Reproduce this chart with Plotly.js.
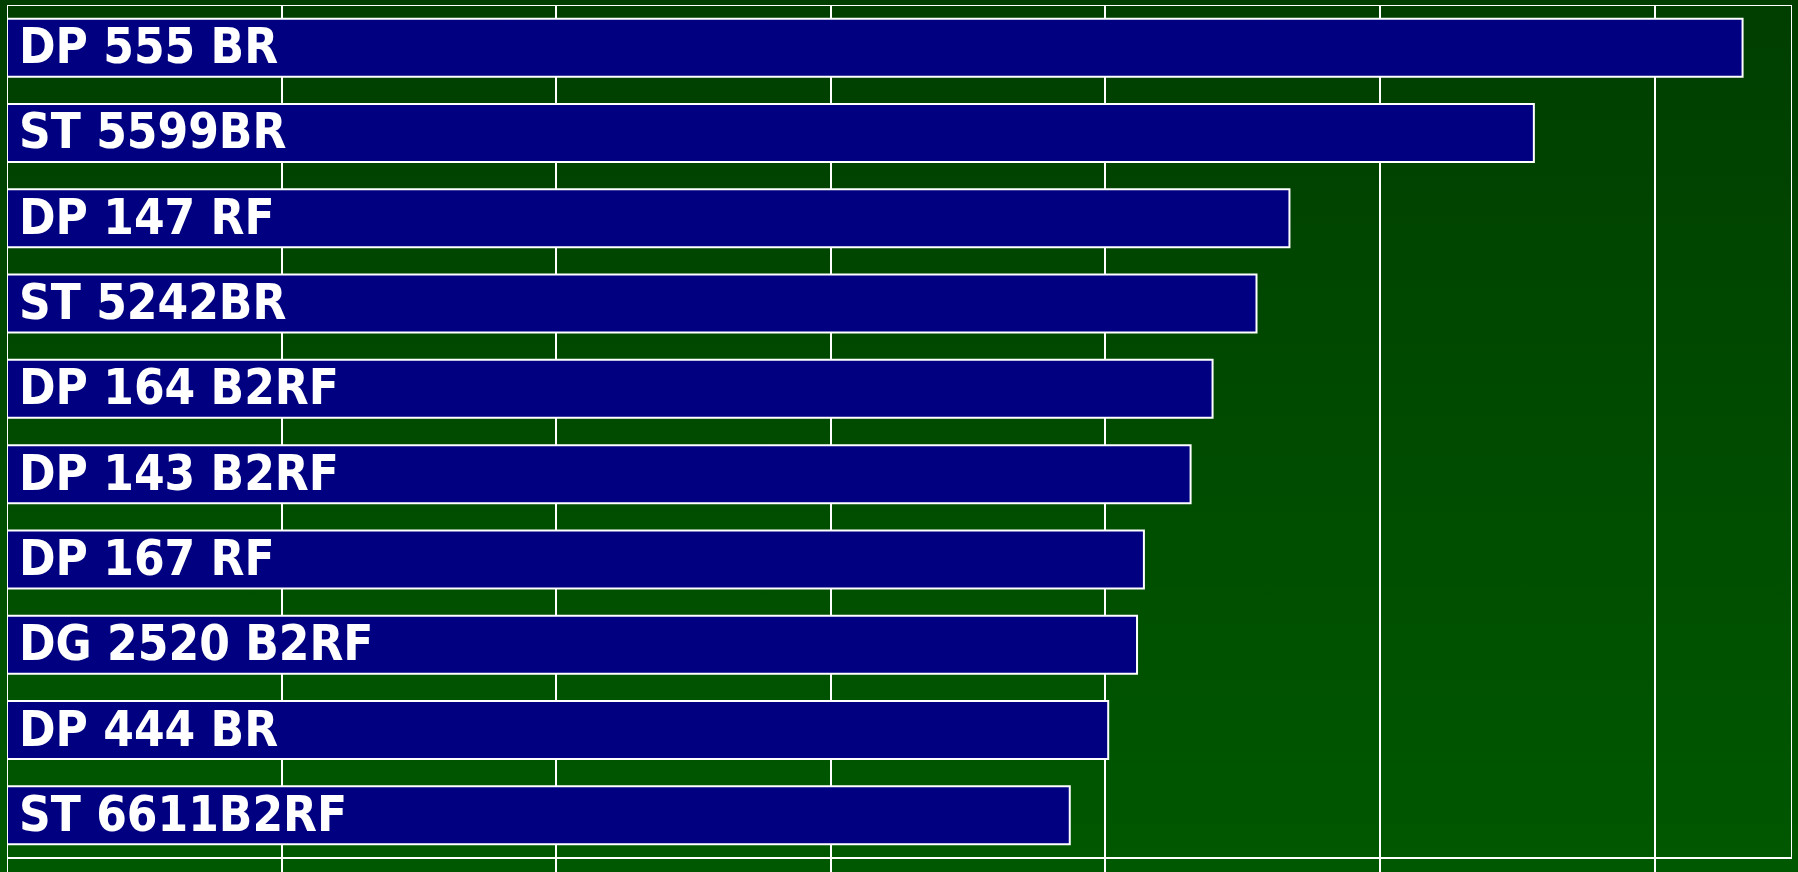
<!DOCTYPE html>
<html>
<head>
<meta charset="utf-8">
<script src="https://cdn.plot.ly/plotly-3.0.1.min.js"></script>
<style>
  html, body { margin: 0; padding: 0; width: 1798px; height: 872px; overflow: hidden;
    background: linear-gradient(to bottom, rgb(0,62,0), rgb(0,88,0)); }
  #chart { width: 1798px; height: 872px; }
</style>
</head>
<body>
<div id="chart"></div>
<script>
// Varieties, top to bottom
const varieties = ["DP 555 BR", "ST 5599BR", "DP 147 RF", "ST 5242BR", "DP 164 B2RF",
                   "DP 143 B2RF", "DP 167 RF", "DG 2520 B2RF", "DP 444 BR", "ST 6611B2RF"];
// Values (axis 0..1300, gridlines every 200)
const yields = [1264, 1112, 934, 910, 878, 862, 828, 823, 802, 774];
const axisMax = 1300;
const gridStep = 200;

const trace = {
  type: "bar",
  orientation: "h",
  y: varieties,
  x: yields,
  width: 0.68,
  marker: { color: "#000080", line: { color: "#ffffff", width: 2 } },
  hoverinfo: "x+y"
};

const annotations = varieties.map((name) => ({
  x: 0, y: name, xref: "x", yref: "y",
  xanchor: "left", yanchor: "middle", xshift: 10, yshift: 1,
  text: name, showarrow: false,
  font: { family: "DejaVu Sans Condensed, DejaVu Sans, Verdana, sans-serif", size: 49, color: "#ffffff", weight: "bold" }
}));

const layout = {
  width: 1798, height: 872,
  margin: { l: 7, r: 6, t: 5, b: 0, pad: 0 },
  paper_bgcolor: "rgba(0,0,0,0)",
  plot_bgcolor: "rgba(0,0,0,0)",
  showlegend: false,
  xaxis: {
    range: [0, axisMax], dtick: gridStep, tick0: 0,
    showgrid: true, gridcolor: "#ffffff", gridwidth: 2,
    zeroline: false, showline: false, showticklabels: false, ticks: "", fixedrange: true
  },
  yaxis: {
    type: "category", categoryarray: varieties, categoryorder: "array",
    range: [9.664, -0.5],
    showgrid: false, zeroline: false, showline: false, showticklabels: false, ticks: "", fixedrange: true
  },
  shapes: [
    { type: "rect", xref: "x", yref: "y", x0: 0, x1: axisMax, y0: -0.5, y1: 9.5,
      line: { color: "#ffffff", width: 2 }, fillcolor: "rgba(0,0,0,0)", layer: "below" },
    { type: "line", xref: "x", yref: "paper", x0: 0, x1: 0, y0: 0, y1: 1,
      line: { color: "#ffffff", width: 2 }, layer: "below" }
  ],
  annotations: annotations
};

Plotly.newPlot("chart", [trace], layout, { displayModeBar: false, staticPlot: true });
</script>
</body>
</html>
